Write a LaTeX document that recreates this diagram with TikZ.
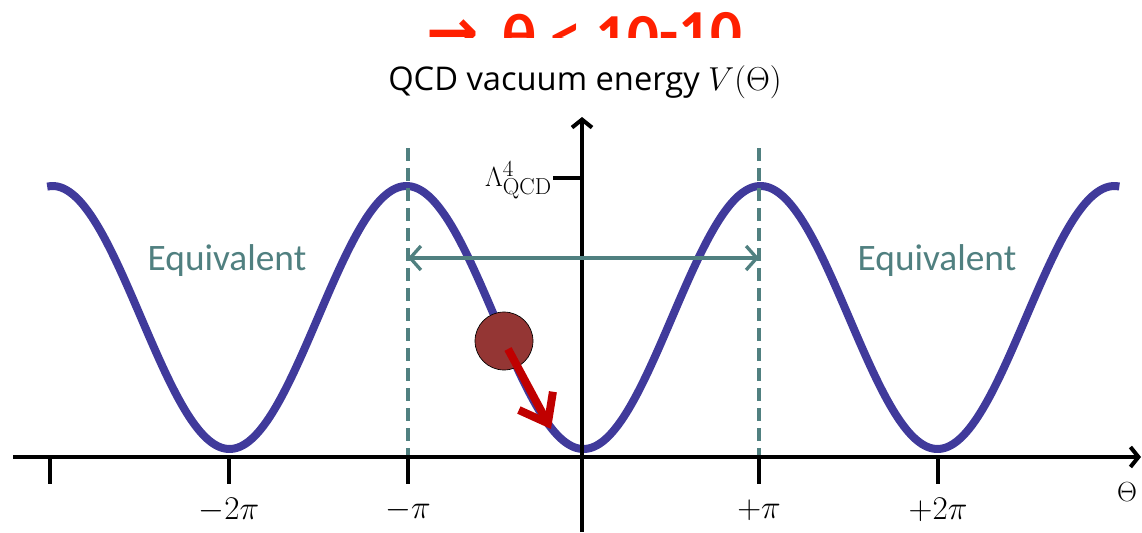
\documentclass[tikz,border=0pt]{standalone}
\usepackage[no-math]{fontspec}
\setmainfont{Carlito}
\newfontfamily\dejavu{DejaVu Sans}
\newfontfamily\titlefont{Open Sans}
\usetikzlibrary{arrows.meta}
\DeclareMathSizes{20}{20}{16}{13}
\definecolor{curveblue}{RGB}{64,58,155}
\definecolor{eqteal}{RGB}{80,128,128}
\definecolor{ballred}{RGB}{148,54,52}
\definecolor{arrred}{RGB}{192,0,0}
\definecolor{topred}{RGB}{255,32,0}
\tikzset{
  axisline/.style={line width=3pt, black, -{Straight Barb[length=6pt,width=15pt]}},
  tickline/.style={line width=3.5pt, black},
  curveline/.style={line width=6pt, curveblue},
  dashline/.style={eqteal, line width=3pt, dash pattern=on 10pt off 5pt},
  equivarrow/.style={eqteal, line width=2.5pt, {Straight Barb[length=8pt,width=18pt]}-{Straight Barb[length=8pt,width=18pt]}},
  equivlabel/.style={eqteal, font=\fontsize{28}{32}\selectfont, inner sep=0pt},
  ticklabel/.style={font=\fontsize{27}{32}\selectfont, inner sep=0pt},
  ball/.style={circle, fill=ballred, draw=black, line width=0.5pt, minimum size=43.5pt, inner sep=0pt},
  rollarrow/.style={arrred, line width=6pt, -{Straight Barb[length=19pt,width=29pt]}},
}
\begin{document}
\begin{tikzpicture}[x=0.75pt,y=-0.75pt]
\useasboundingbox (0,0) rectangle (1142,532);
% clipped top text
\begin{scope}
\clip (0,0) rectangle (1142,37);
\node[anchor=base west, inner sep=0pt, text depth=0pt, text=topred, font=\bfseries\fontsize{47}{52}\selectfont] (cond) at (426,57)
  {\raisebox{3pt}{\dejavu →}\hspace{7pt} θ < 10\raisebox{3pt}{-10}};
\end{scope}
% title
\node[anchor=base, inner sep=0pt, font=\titlefont\fontsize{24.5}{30}\selectfont] (title) at (585,90) {QCD vacuum energy {\fontsize{25}{30}\selectfont$V(\Theta)$}};
% coordinates
\coordinate (hstart) at (13,457);
\coordinate (hend) at (1141,457);
\coordinate (vbot) at (582,532);
\coordinate (vtop) at (582,117);
% curve
\draw[curveline] plot[domain=-3.03:3.03, samples=240, smooth] ({583.5+177*\x}, {317.5+131.5*cos(180*\x)});
% dashed lines
\coordinate (dLtop) at (408,148); \coordinate (dLbot) at (408,457);
\coordinate (dRtop) at (759,148); \coordinate (dRbot) at (759,457);
\draw[dashline] (dLtop) -- (dLbot);
\draw[dashline] (dRtop) -- (dRbot);
% axes
\draw[axisline] (hstart) -- (hend);
\draw[axisline] (vbot) -- (vtop);
% ticks
\foreach \n/\x in {a/50,b/229,c/408,d/759,e/938}{
  \coordinate (t\n) at (\x,457);
  \coordinate (t\n b) at (\x,484);
  \draw[tickline] (t\n) -- (t\n b);
}
\node[ticklabel] (lb) at (229,510) {$-2\pi$};
\node[ticklabel] (lc) at (408,510) {$-\pi$};
\node[ticklabel] (ld) at (759,510) {$+\pi$};
\node[ticklabel] (le) at (938,510) {$+2\pi$};
\node[inner sep=0pt, font=\fontsize{20}{24}\selectfont] (thetalab) at (1127,492) {$\Theta$};
% Lambda tick
\coordinate (lamA) at (553,178);
\coordinate (lamB) at (582,178);
\draw[tickline] (lamA) -- (lamB);
\node[anchor=east, inner sep=0pt, font=\fontsize{20}{24}\selectfont] (lam) at (552,180) {$\Lambda^4_{\mathrm{QCD}}$};
% equivalence arrow
\coordinate (eqL) at (408,258);
\coordinate (eqR) at (759,258);
\draw[equivarrow] (eqL) -- (eqR);
\node[equivlabel, anchor=base] (eq1) at (227,270) {Equivalent};
\node[equivlabel, anchor=base] (eq2) at (937,270) {Equivalent};
% ball and arrow
\node[ball] (ballnode) at (504,341) {};
\coordinate (rstart) at (508,349);
\coordinate (rtip) at (551,429);
\draw[rollarrow] (rstart) -- (rtip);
\end{tikzpicture}
\end{document}
